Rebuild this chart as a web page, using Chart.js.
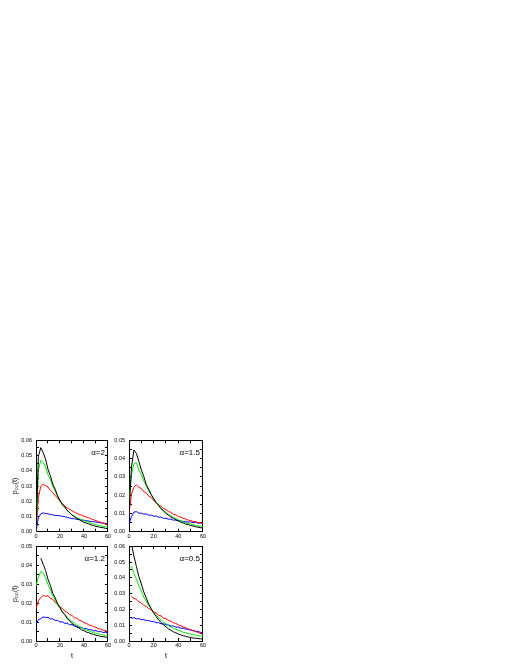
<!DOCTYPE html>
<html>
<head>
<meta charset="utf-8">
<script src="https://cdn.jsdelivr.net/npm/chart.js@4.4.0/dist/chart.umd.min.js"></script>
<style>
  body { margin: 0; width: 518px; height: 670px; background: #fff; position: relative; overflow: hidden; }
  canvas { position: absolute; }
</style>
</head>
<body>
<canvas id="panel1" width="115" height="112" style="left:0px;top:430px"></canvas>
<canvas id="panel2" width="110" height="112" style="left:100px;top:430px"></canvas>
<canvas id="panel3" width="115" height="134" style="left:0px;top:536px"></canvas>
<canvas id="panel4" width="110" height="134" style="left:100px;top:536px"></canvas>
<script>
const tValues = [0, 2, 4, 6, 8, 10, 12, 14, 16, 18, 20, 22, 24, 26, 28, 30, 32, 34, 36, 38, 40, 42, 44, 46, 48, 50, 52, 54, 56, 58, 60];

// alpha = 2
const black2 = [0.0000, 0.0495, 0.0552, 0.0518, 0.0476, 0.0410, 0.0368, 0.0312, 0.0279, 0.0236, 0.0207, 0.0178, 0.0162, 0.0139, 0.0126, 0.0109, 0.0099, 0.0087, 0.0079, 0.0069, 0.0062, 0.0056, 0.0051, 0.0044, 0.0040, 0.0035, 0.0032, 0.0028, 0.0026, 0.0022, 0.0020];
const green2 = [0.0000, 0.0405, 0.0468, 0.0455, 0.0425, 0.0376, 0.0343, 0.0297, 0.0268, 0.0229, 0.0205, 0.0176, 0.0160, 0.0139, 0.0127, 0.0111, 0.0102, 0.0092, 0.0086, 0.0079, 0.0074, 0.0066, 0.0061, 0.0055, 0.0051, 0.0046, 0.0042, 0.0038, 0.0035, 0.0032, 0.0030];
const red2 = [0.0000, 0.0225, 0.0298, 0.0312, 0.0302, 0.0293, 0.0272, 0.0258, 0.0236, 0.0222, 0.0198, 0.0185, 0.0169, 0.0157, 0.0146, 0.0138, 0.0128, 0.0121, 0.0113, 0.0108, 0.0102, 0.0096, 0.0091, 0.0084, 0.0079, 0.0072, 0.0068, 0.0061, 0.0057, 0.0051, 0.0046];
const blue2 = [0.0000, 0.0092, 0.0117, 0.0124, 0.0119, 0.0118, 0.0112, 0.0111, 0.0106, 0.0107, 0.0104, 0.0101, 0.0099, 0.0094, 0.0090, 0.0086, 0.0085, 0.0081, 0.0080, 0.0076, 0.0075, 0.0072, 0.0070, 0.0067, 0.0066, 0.0063, 0.0061, 0.0058, 0.0057, 0.0054, 0.0052];

// alpha = 1.5
const black15 = [0.0105, 0.0352, 0.0447, 0.0428, 0.0385, 0.0338, 0.0302, 0.0258, 0.0232, 0.0203, 0.0182, 0.0158, 0.0144, 0.0125, 0.0114, 0.0099, 0.0091, 0.0080, 0.0074, 0.0065, 0.0060, 0.0052, 0.0048, 0.0042, 0.0039, 0.0034, 0.0031, 0.0027, 0.0025, 0.0022, 0.0021];
const green15 = [0.0160, 0.0312, 0.0372, 0.0378, 0.0338, 0.0312, 0.0278, 0.0252, 0.0223, 0.0202, 0.0179, 0.0163, 0.0144, 0.0131, 0.0116, 0.0106, 0.0094, 0.0087, 0.0077, 0.0072, 0.0064, 0.0060, 0.0053, 0.0050, 0.0044, 0.0042, 0.0037, 0.0035, 0.0031, 0.0030, 0.0028];
const red15 = [0.0100, 0.0205, 0.0243, 0.0257, 0.0242, 0.0237, 0.0219, 0.0212, 0.0195, 0.0187, 0.0170, 0.0162, 0.0146, 0.0140, 0.0126, 0.0121, 0.0110, 0.0106, 0.0095, 0.0092, 0.0083, 0.0080, 0.0073, 0.0070, 0.0063, 0.0061, 0.0056, 0.0055, 0.0050, 0.0049, 0.0046];
const blue15 = [0.0042, 0.0083, 0.0107, 0.0110, 0.0102, 0.0101, 0.0096, 0.0097, 0.0090, 0.0091, 0.0085, 0.0086, 0.0079, 0.0080, 0.0073, 0.0074, 0.0068, 0.0069, 0.0063, 0.0064, 0.0059, 0.0060, 0.0055, 0.0057, 0.0052, 0.0054, 0.0049, 0.0051, 0.0047, 0.0048, 0.0045];

// alpha = 1.2
const black12 = [null, null, 0.0437, 0.0405, 0.0372, 0.0326, 0.0293, 0.0252, 0.0228, 0.0197, 0.0177, 0.0153, 0.0139, 0.0118, 0.0108, 0.0092, 0.0085, 0.0074, 0.0068, 0.0059, 0.0055, 0.0047, 0.0044, 0.0038, 0.0035, 0.0030, 0.0028, 0.0024, 0.0023, 0.0020, 0.0019];
const green12 = [0.0290, 0.0338, 0.0367, 0.0358, 0.0333, 0.0298, 0.0272, 0.0238, 0.0217, 0.0190, 0.0174, 0.0153, 0.0141, 0.0125, 0.0115, 0.0102, 0.0094, 0.0084, 0.0078, 0.0069, 0.0064, 0.0057, 0.0054, 0.0048, 0.0045, 0.0040, 0.0038, 0.0034, 0.0032, 0.0029, 0.0028];
const red12 = [0.0170, 0.0212, 0.0230, 0.0240, 0.0236, 0.0240, 0.0225, 0.0220, 0.0203, 0.0195, 0.0180, 0.0172, 0.0158, 0.0152, 0.0139, 0.0135, 0.0123, 0.0120, 0.0109, 0.0106, 0.0097, 0.0093, 0.0085, 0.0082, 0.0075, 0.0072, 0.0065, 0.0063, 0.0057, 0.0054, 0.0050];
const blue12 = [0.0090, 0.0112, 0.0118, 0.0127, 0.0124, 0.0125, 0.0116, 0.0117, 0.0108, 0.0109, 0.0100, 0.0101, 0.0093, 0.0094, 0.0085, 0.0087, 0.0077, 0.0078, 0.0071, 0.0072, 0.0065, 0.0066, 0.0059, 0.0060, 0.0053, 0.0055, 0.0049, 0.0050, 0.0045, 0.0046, 0.0042];

// alpha = 0.5
const black05 = [null, 0.0615, 0.0538, 0.0472, 0.0409, 0.0362, 0.0311, 0.0272, 0.0234, 0.0206, 0.0177, 0.0156, 0.0134, 0.0118, 0.0101, 0.0090, 0.0076, 0.0068, 0.0058, 0.0052, 0.0044, 0.0039, 0.0033, 0.0030, 0.0025, 0.0023, 0.0019, 0.0018, 0.0015, 0.0014, 0.0012];
const green05 = [null, 0.0475, 0.0428, 0.0393, 0.0348, 0.0318, 0.0278, 0.0253, 0.0223, 0.0204, 0.0180, 0.0166, 0.0146, 0.0135, 0.0118, 0.0110, 0.0096, 0.0090, 0.0079, 0.0075, 0.0066, 0.0063, 0.0055, 0.0053, 0.0046, 0.0045, 0.0039, 0.0038, 0.0033, 0.0032, 0.0029];
const red05 = [null, 0.0282, 0.0270, 0.0264, 0.0248, 0.0242, 0.0226, 0.0219, 0.0205, 0.0198, 0.0184, 0.0178, 0.0164, 0.0159, 0.0146, 0.0142, 0.0130, 0.0126, 0.0115, 0.0112, 0.0101, 0.0098, 0.0088, 0.0085, 0.0076, 0.0073, 0.0064, 0.0061, 0.0053, 0.0049, 0.0042];
const blue05 = [null, 0.0143, 0.0148, 0.0140, 0.0142, 0.0135, 0.0136, 0.0129, 0.0130, 0.0123, 0.0123, 0.0116, 0.0116, 0.0109, 0.0109, 0.0102, 0.0102, 0.0095, 0.0095, 0.0088, 0.0088, 0.0081, 0.0081, 0.0075, 0.0074, 0.0068, 0.0067, 0.0062, 0.0060, 0.0055, 0.0053];

const lineColors = ['#000000', '#00e600', '#ff0000', '#0000ff'];

Chart.defaults.font.family = '"Liberation Sans", Arial, sans-serif';
Chart.defaults.color = '#000';

// writes the alpha value in the upper right corner of a panel
const panelLabel = {
    id: 'panelLabel',
    afterDatasetsDraw(chart, args, opts) {
        const ctx = chart.ctx;
        const area = chart.chartArea;
        ctx.save();
        ctx.font = '8px "Liberation Sans", Arial, sans-serif';
        ctx.fillStyle = '#000';
        ctx.textAlign = 'right';
        ctx.textBaseline = 'middle';
        ctx.fillText(opts.text, area.right - 3, area.top + 12);
        ctx.restore();
    }
};

function frameAxis(position, min, max, step, size) {
    return {
        type: 'linear',
        position: position,
        min: min,
        max: max,
        grid: { drawOnChartArea: false, color: '#000', tickLength: -3 },
        border: { display: true, color: '#000', width: 1 },
        ticks: { stepSize: step, autoSkip: false, callback: () => '' },
        afterFit: (scale) => {
            if (scale.isHorizontal()) scale.height = size; else scale.width = size;
        }
    };
}

function makePanel(id, label, series, yMax, yTitle, xTitle, yWidth, xHeight) {
    const ctx = document.getElementById(id).getContext('2d');
    return new Chart(ctx, {
        type: 'line',
        data: {
            labels: tValues,
            datasets: series.map((s, i) => ({
                data: s,
                borderColor: lineColors[i],
                borderWidth: 1,
                pointRadius: 0,
                fill: false,
                tension: 0
            }))
        },
        options: {
            responsive: false,
            animation: false,
            layout: { padding: 0 },
            plugins: {
                legend: { display: false },
                tooltip: { enabled: false },
                panelLabel: { text: label }
            },
            scales: {
                x: {
                    type: 'linear',
                    position: 'bottom',
                    min: 0,
                    max: 60,
                    grid: { drawOnChartArea: false, color: '#000', tickLength: -3 },
                    border: { display: true, color: '#000', width: 1 },
                    ticks: {
                        stepSize: 10,
                        autoSkip: false,
                        maxRotation: 0,
                        padding: 4,
                        font: { size: 5.5 },
                        callback: (v) => (v % 20 === 0 ? String(v) : '')
                    },
                    title: {
                        display: xTitle,
                        text: 't',
                        font: { size: 7 },
                        padding: { top: 0, bottom: 10 }
                    },
                    afterFit: (scale) => { scale.height = xHeight; }
                },
                y: {
                    type: 'linear',
                    position: 'left',
                    min: 0,
                    max: yMax,
                    grid: { drawOnChartArea: false, color: '#000', tickLength: -3 },
                    border: { display: true, color: '#000', width: 1 },
                    ticks: {
                        stepSize: 0.005,
                        autoSkip: false,
                        padding: 7,
                        font: { size: 5.5 },
                        callback: (v) => (Math.round(v * 1000) % 10 === 0 ? v.toFixed(2) : '')
                    },
                    title: {
                        display: yTitle,
                        text: 'p\u209a\u209a(t)',
                        font: { size: 7 },
                        padding: { top: 11, bottom: 0 }
                    },
                    afterFit: (scale) => { scale.width = yWidth; }
                },
                x2: frameAxis('top', 0, 60, 10, 6),
                y2: frameAxis('right', 0, yMax, 0.005, 6)
            }
        },
        plugins: [panelLabel]
    });
}

makePanel('panel1', '\u03b1=2', [black2, green2, red2, blue2], 0.06, true, false, 36, 10);
makePanel('panel2', '\u03b1=1.5', [black15, green15, red15, blue15], 0.05, false, false, 29, 10);
makePanel('panel3', '\u03b1=1.2', [black12, green12, red12, blue12], 0.05, true, true, 36, 29);
makePanel('panel4', '\u03b1=0.5', [black05, green05, red05, blue05], 0.06, false, true, 29, 29);
</script>
</body>
</html>
